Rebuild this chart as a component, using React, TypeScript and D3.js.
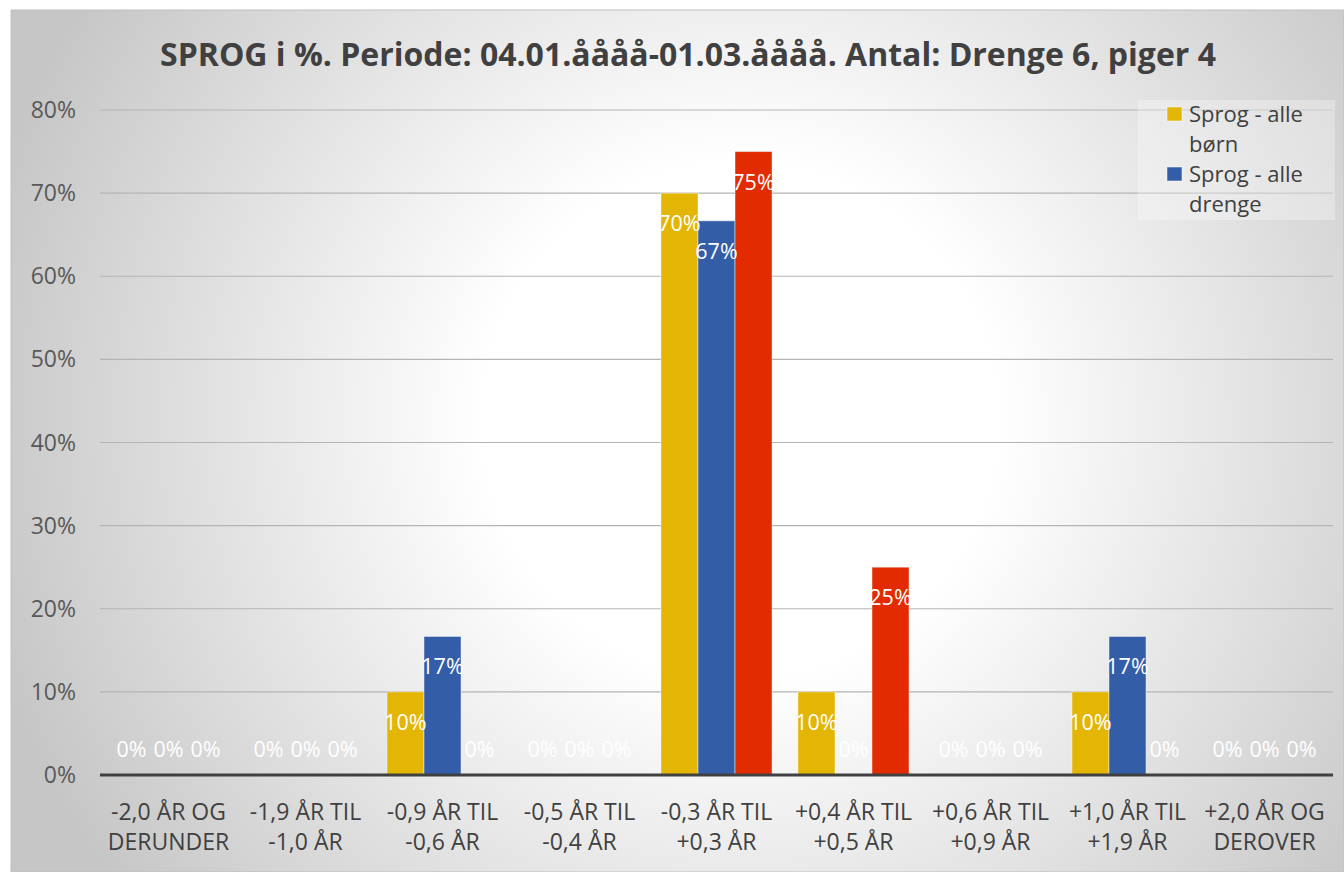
import React from "react";
import * as d3 from "d3";

const categories: string[][] = [
  ["-2,0 ÅR OG", "DERUNDER"],
  ["-1,9 ÅR TIL", "-1,0 ÅR"],
  ["-0,9 ÅR TIL", "-0,6 ÅR"],
  ["-0,5 ÅR TIL", "-0,4 ÅR"],
  ["-0,3 ÅR TIL", "+0,3 ÅR"],
  ["+0,4 ÅR TIL", "+0,5 ÅR"],
  ["+0,6 ÅR TIL", "+0,9 ÅR"],
  ["+1,0 ÅR TIL", "+1,9 ÅR"],
  ["+2,0 ÅR OG", "DEROVER"],
];

const seriesNames = ["Sprog - alle børn", "Sprog - alle drenge", "Sprog - alle piger"];
const alleBoern = [0, 0, 0.1, 0, 0.7, 0.1, 0, 0.1, 0];
const alleDrenge = [0, 0, 1 / 6, 0, 4 / 6, 0, 0, 1 / 6, 0];
const allePiger = [0, 0, 0, 0, 0.75, 0.25, 0, 0, 0];
const seriesValues = [alleBoern, alleDrenge, allePiger];
const seriesColors = ["#E3B505", "#335DA6", "#E22B00"];
const yTicks = [0, 0.1, 0.2, 0.3, 0.4, 0.5, 0.6, 0.7, 0.8];
const legendLines: string[][] = [["Sprog - alle", "børn"], ["Sprog - alle", "drenge"]];

const title = "SPROG i %. Periode: 04.01.åååå-01.03.åååå. Antal: Drenge 6, piger 4";

const W = 1344;
const H = 872;
const FONT = "'Open Sans', Lato, sans-serif";

export default function App() {
  const x = d3.scaleBand<number>().domain(d3.range(categories.length)).range([100, 1333]).paddingInner(0).paddingOuter(0);
  const xs = d3.scaleBand<number>().domain([0, 1, 2]).range([0, x.bandwidth()]).paddingInner(0).paddingOuter(0.35);
  const y = d3.scaleLinear().domain([0, 0.8]).range([775, 110]);
  const fmt = d3.format(".0%");

  return (
    <svg width={W} height={H} style={{ position: "absolute", left: 0, top: 0, background: "#fff" }} fontFamily={FONT}>
      <defs>
        <radialGradient id="bg" gradientUnits="userSpaceOnUse" cx={740} cy={420} r={780}>
          <stop offset="0" stopColor="#ffffff" />
          <stop offset="0.33" stopColor="#ffffff" />
          <stop offset="1" stopColor="#c6c6c6" />
        </radialGradient>
      </defs>
      <rect x={11} y={10} width={W - 11} height={H - 10} fill="url(#bg)" stroke="#bfbfbf" strokeWidth={1} />
      <text x={688} y={66} textAnchor="middle" fontSize={32} fontWeight={700} fill="#404040">{title}</text>

      {yTicks.map((t) => (
        <g key={t}>
          {t > 0 && <line x1={100} x2={1333} y1={y(t)} y2={y(t)} stroke="#b4b4b4" strokeWidth={1.2} />}
          <text x={76} y={y(t) + 8} textAnchor="end" fontSize={23} fill="#595959">{fmt(t)}</text>
        </g>
      ))}

      {seriesValues.map((vals, s) => (
        <g key={s}>
          {vals.map((v, i) => (
            <rect
              key={i}
              x={(x(i) as number) + (xs(s) as number)}
              y={y(v)}
              width={xs.bandwidth()}
              height={y(0) - y(v)}
              fill={seriesColors[s]}
              stroke="rgba(255,255,255,0.45)"
              strokeWidth={v > 0 ? 1 : 0}
            />
          ))}
        </g>
      ))}

      <line x1={100} x2={1333} y1={y(0)} y2={y(0)} stroke="#404040" strokeWidth={3} />

      {seriesValues.map((vals, s) => (
        <g key={"l" + s}>
          {vals.map((v, i) => (
            <text
              key={i}
              x={(x(i) as number) + (xs(s) as number) + xs.bandwidth() / 2}
              y={v > 0 ? y(v) + 38 : y(0) - 18}
              textAnchor="middle"
              fontSize={21.5}
              fill="#ffffff"
            >
              {fmt(v)}
            </text>
          ))}
        </g>
      ))}

      {categories.map((c, i) => (
        <text key={i} x={(x(i) as number) + x.bandwidth() / 2} textAnchor="middle" fontSize={23} fill="#404040">
          <tspan x={(x(i) as number) + x.bandwidth() / 2} y={820}>{c[0]}</tspan>
          <tspan x={(x(i) as number) + x.bandwidth() / 2} y={850}>{c[1]}</tspan>
        </text>
      ))}

      <rect x={1138} y={100} width={197} height={120} fill="#ffffff" fillOpacity={0.3} />
      {legendLines.map((lines, k) => (
        <g key={k}>
          <rect x={1167} y={107 + k * 60} width={15} height={14} fill={seriesColors[k]} stroke="rgba(255,255,255,0.5)" strokeWidth={1} />
          <text x={1189} fontSize={22} fill="#404040">
            <tspan x={1189} y={122 + k * 60}>{lines[0]}</tspan>
            <tspan x={1189} y={152 + k * 60}>{lines[1]}</tspan>
          </text>
        </g>
      ))}
    </svg>
  );
}
